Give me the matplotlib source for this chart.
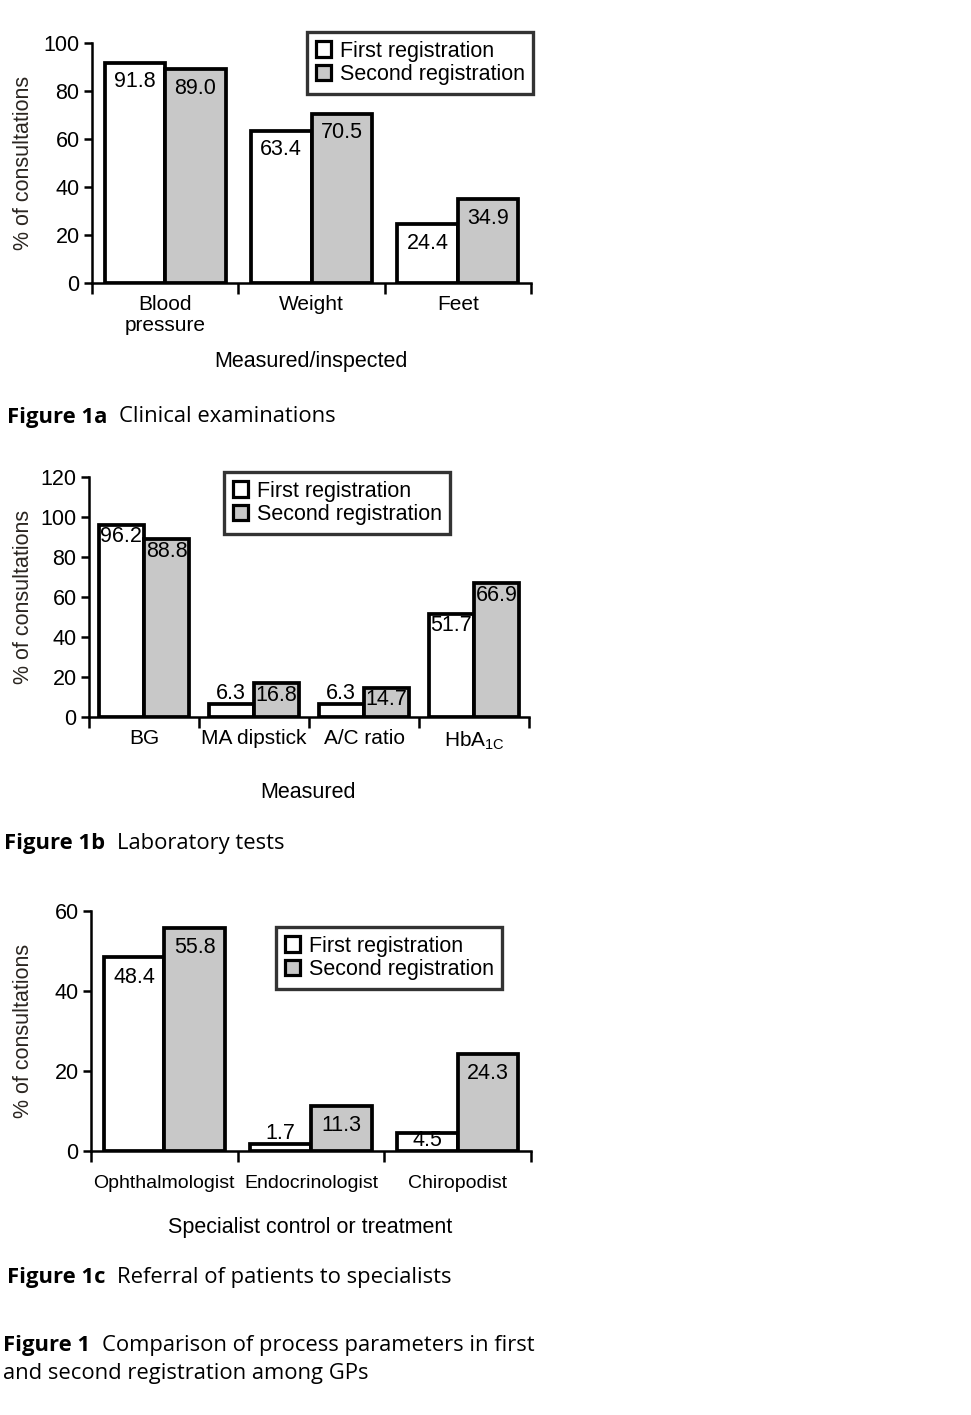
import matplotlib
matplotlib.use("Agg")
import matplotlib.pyplot as plt
from matplotlib.patches import Patch
import numpy as np

W, H = 971, 1415
DPI = 100

plt.rcParams['font.family'] = ['Liberation Sans', 'DejaVu Sans']
plt.rcParams['mathtext.fontset'] = 'custom'
plt.rcParams['mathtext.rm'] = 'Liberation Sans'
plt.rcParams['mathtext.it'] = 'Liberation Sans:italic'

# ---------------- data ----------------
cats_a = ["Blood\npressure", "Weight", "Feet"]
first_a = [91.8, 63.4, 24.4]
second_a = [89.0, 70.5, 34.9]

cats_b = ["BG", "MA dipstick", "A/C ratio", r"HbA$_{\mathrm{1C}}$"]
first_b = [96.2, 6.3, 6.3, 51.7]
second_b = [88.8, 16.8, 14.7, 66.9]

cats_c = ["Ophthalmologist", "Endocrinologist", "Chiropodist"]
first_c = [48.4, 1.7, 4.5]
second_c = [55.8, 11.3, 24.3]

yticks_a = [0, 20, 40, 60, 80, 100]
yticks_b = [0, 20, 40, 60, 80, 100, 120]
yticks_c = [0, 20, 40, 60]

series_names = ["First registration", "Second registration"]
xlabels = ["Measured/inspected", "Measured", "Specialist control or treatment"]
captions = [("Figure 1a", "Clinical examinations"),
            ("Figure 1b", "Laboratory tests"),
            ("Figure 1c", "Referral of patients to specialists")]

GRAY = '#c8c8c8'
FS = 15.5

fig = plt.figure(figsize=(W / DPI, H / DPI), dpi=DPI)

def fx(px):
    return px / W

def fy(py):
    return 1 - py / H


def panel(left, right, bottom, top, ymax, cats, s1, s2, yticks, xlabel,
          lab_off, cat_pad, cat_fs, legend_xy, xlabel_y):
    ax = fig.add_axes([fx(left), fy(bottom), (right - left) / W, (bottom - top) / H])
    n = len(cats)
    width = 0.413
    idx = np.arange(n)
    c1 = idx + 0.5 - width / 2
    c2 = idx + 0.5 + width / 2
    ax.bar(c1, s1, width, facecolor='white', edgecolor='black', linewidth=2.7, zorder=3)
    ax.bar(c2, s2, width, facecolor=GRAY, edgecolor='black', linewidth=2.7, zorder=3)
    ax.set_xlim(0, n)
    ax.set_ylim(0, ymax)
    for sp in ['top', 'right']:
        ax.spines[sp].set_visible(False)
    for sp in ['left', 'bottom']:
        ax.spines[sp].set_linewidth(1.8)
    ax.set_yticks(yticks)
    ax.set_yticklabels([str(t) for t in yticks], fontsize=FS)
    ax.tick_params(axis='y', direction='out', length=6, width=1.8, pad=3)
    ax.set_xticks(np.arange(n + 1))
    ax.set_xticklabels([])
    ax.tick_params(axis='x', which='major', direction='out', length=8, width=1.8)
    ax.set_xticks(idx + 0.5, minor=True)
    ax.set_xticklabels(cats, minor=True, fontsize=cat_fs, linespacing=1.1)
    ax.tick_params(axis='x', which='minor', length=0, pad=cat_pad)
    ax.set_ylabel("% of consultations", fontsize=FS, color='#2a2520')
    hpx = bottom - top
    for xs, vals in ((c1, s1), (c2, s2)):
        for x, v in zip(xs, vals):
            bh = v / ymax * hpx
            if bh < 15:
                dy = 11
            else:
                dy = max(-lab_off, -(bh - 10))
            ax.annotate(f"{v:.1f}", xy=(x, v), xytext=(0, dy), textcoords='offset pixels',
                        ha='center', va='center', fontsize=FS, zorder=5)
    fig.text(fx((left + right) / 2 - 1), fy(xlabel_y), xlabel, ha='center', va='center', fontsize=FS)
    handles = [Patch(facecolor='white', edgecolor='black', linewidth=2.3),
               Patch(facecolor=GRAY, edgecolor='black', linewidth=2.3)]
    leg = fig.legend(handles, series_names, loc='upper left',
                     bbox_to_anchor=(fx(legend_xy[0]), fy(legend_xy[1])),
                     fontsize=FS, frameon=True, fancybox=False, borderaxespad=0,
                     handlelength=0.72, handleheight=0.72, handletextpad=0.4,
                     labelspacing=0.12, borderpad=0.4)
    fr = leg.get_frame()
    fr.set_edgecolor('black')
    fr.set_linewidth(2.4)
    return ax

ax1 = panel(92, 531, 283, 43, 100, cats_a, first_a, second_a, yticks_a, xlabels[0],
            19, 9, 15, (307, 32), 361)
ax2 = panel(89, 529, 717, 477, 120, cats_b, first_b, second_b, yticks_b, xlabels[1],
            12, 9, 15, (224, 472), 792)
ax3 = panel(91, 531, 1151, 911, 60, cats_c, first_c, second_c, yticks_c, xlabels[2],
            20, 17, 14, (276, 927), 1228)

for ax in (ax1, ax2, ax3):
    pos = ax.get_position()
    ax.yaxis.set_label_coords((fx(34) - pos.x0) / pos.width, 0.5)

CFS = 15.8
FAM = ['Open Sans', 'DejaVu Sans']
cap_pos = [(7, 417), (4, 843), (7, 1278)]
for (b, t), (x, y) in zip(captions, cap_pos):
    tb = fig.text(fx(x), fy(y), b + "  ", fontsize=CFS, fontweight='bold',
                  family=FAM, ha='left', va='center')
    fig.canvas.draw()
    bb = tb.get_window_extent()
    fig.text(fx(bb.x1), fy(y), t, fontsize=CFS, family=FAM, ha='left', va='center')

tb = fig.text(fx(3), fy(1346), "Figure 1  ", fontsize=CFS, fontweight='bold',
              family=FAM, ha='left', va='center')
fig.canvas.draw()
bb = tb.get_window_extent()
fig.text(fx(bb.x1), fy(1346), "Comparison of process parameters in first", fontsize=CFS,
         family=FAM, ha='left', va='center')
fig.text(fx(3), fy(1373), "and second registration among GPs", fontsize=CFS,
         family=FAM, ha='left', va='center')

fig.savefig("out.png", dpi=DPI)
